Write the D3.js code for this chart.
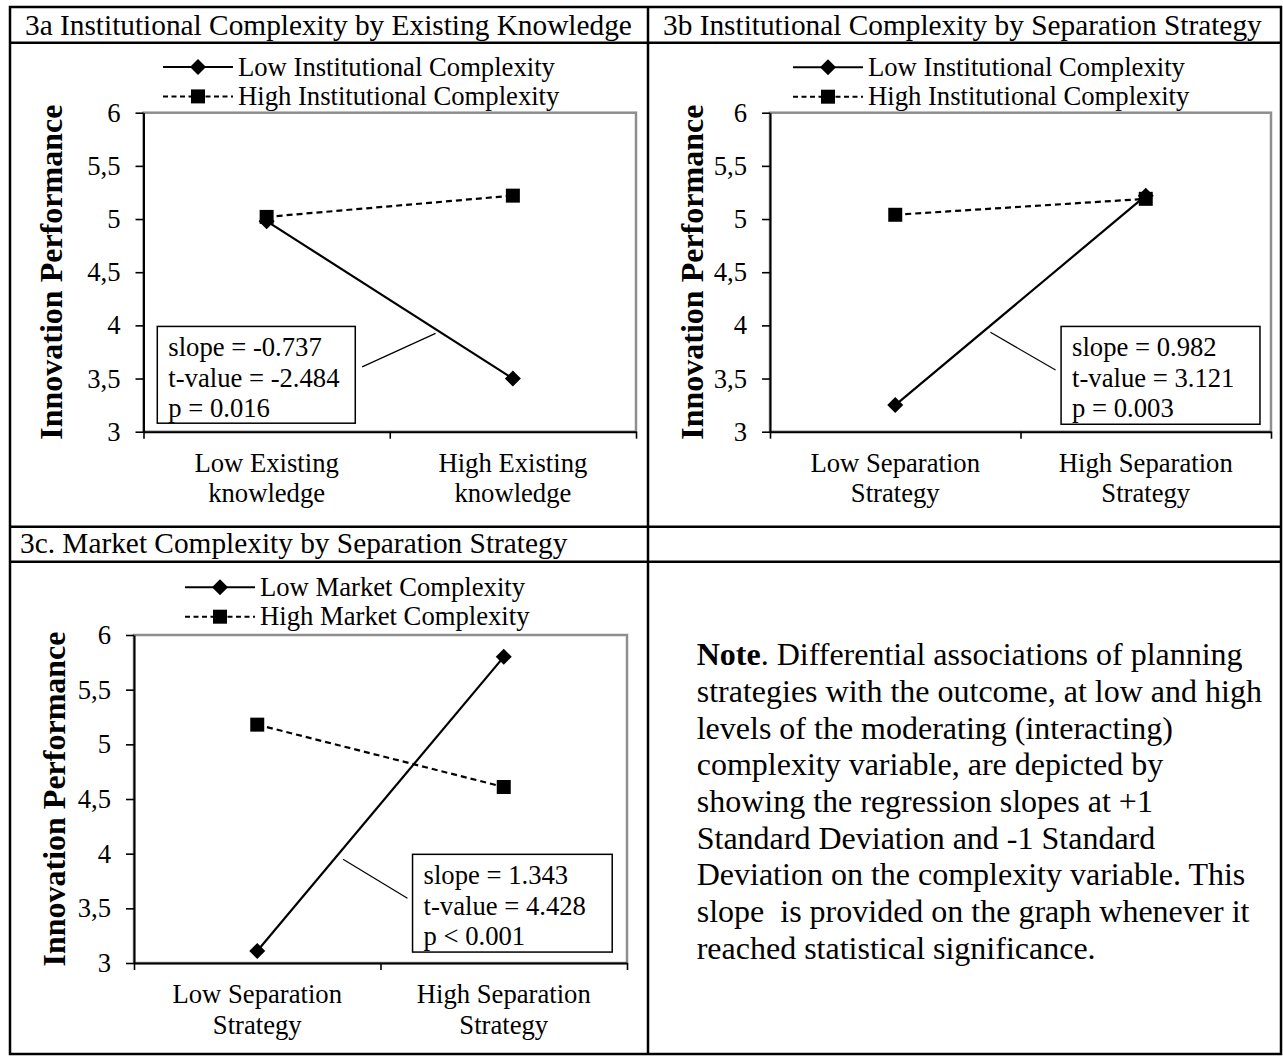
<!DOCTYPE html>
<html>
<head>
<meta charset="utf-8">
<script src="https://cdn.jsdelivr.net/npm/d3@7"></script>
<style>
  body { margin: 0; background: #fff; }
  svg text { font-family: "Liberation Serif", "Times New Roman", serif; fill: #000; }
</style>
</head>
<body>
<svg id="fig" width="1283" height="1057"></svg>
<script>
// ---- data ----
const titles = [
  "3a Institutional Complexity by Existing Knowledge",
  "3b Institutional Complexity by Separation Strategy",
  "3c. Market Complexity by Separation Strategy"
];
const categoriesKnowledge = [["Low Existing", "knowledge"], ["High Existing", "knowledge"]];
const categoriesSeparation = [["Low Separation", "Strategy"], ["High Separation", "Strategy"]];
const yTicks = [3, 3.5, 4, 4.5, 5, 5.5, 6];
const yTitle = "Innovation Performance";

const legendInstitutional = ["Low Institutional Complexity", "High Institutional Complexity"];
const legendMarket = ["Low Market Complexity", "High Market Complexity"];

const low3a = [4.98, 3.50];
const high3a = [5.02, 5.22];
const low3b = [3.25, 5.22];
const high3b = [5.04, 5.19];
const low3c = [3.11, 5.80];
const high3c = [5.18, 4.61];

const stats3a = ["slope = -0.737", "t-value = -2.484", "p = 0.016"];
const stats3b = ["slope = 0.982", "t-value = 3.121", "p = 0.003"];
const stats3c = ["slope = 1.343", "t-value = 4.428", "p < 0.001"];

const noteLead = "Note";
const noteLines = [
  ". Differential associations of planning",
  "strategies with the outcome, at low and high",
  "levels of the moderating (interacting)",
  "complexity variable, are depicted by",
  "showing the regression slopes at +1",
  "Standard Deviation and -1 Standard",
  "Deviation on the complexity variable. This",
  "slope  is provided on the graph whenever it",
  "reached statistical significance."
];

// ---- layout ----
const FS = 26.67;          // 20pt body text
const svg = d3.select("#fig");

const panels = [
  {
    cats: categoriesKnowledge, low: low3a, high: high3a, legend: legendInstitutional, stats: stats3a,
    plot: { x0: 143.5, x1: 636, y0: 112.7, y1: 431.7 },
    legendAt: { x: 163, y: 67, dy: 29.4 }, titleX: 62,
    box: { f0: 0.028, f1: 0.430, v0: 3.99, v1: 3.08 },
    leader: [[0.444, 3.61], [0.593, 3.925]]
  },
  {
    cats: categoriesSeparation, low: low3b, high: high3b, legend: legendInstitutional, stats: stats3b,
    plot: { x0: 770, x1: 1271, y0: 112.7, y1: 431.7 },
    legendAt: { x: 793, y: 67.3, dy: 29.4 }, titleX: 703,
    box: { f0: 0.581, f1: 0.978, v0: 3.99, v1: 3.07 },
    leader: [[0.570, 3.58], [0.440, 3.935]]
  },
  {
    cats: categoriesSeparation, low: low3c, high: high3c, legend: legendMarket, stats: stats3c,
    plot: { x0: 134, x1: 627, y0: 635, y1: 963 },
    legendAt: { x: 185, y: 587.3, dy: 29.4 }, titleX: 65,
    box: { f0: 0.565, f1: 0.970, v0: 3.994, v1: 3.10 },
    leader: [[0.5546, 3.592], [0.424, 3.948]]
  }
];

// ---- table grid ----
const grid = svg.append("g").attr("stroke", "#000").attr("stroke-width", 2.5).attr("fill", "none");
grid.append("rect").attr("x", 10).attr("y", 7).attr("width", 1271).attr("height", 1047);
[42.7, 526.7, 561.7].forEach(y => grid.append("line").attr("x1", 10).attr("x2", 1281).attr("y1", y).attr("y2", y));
grid.append("line").attr("x1", 648).attr("x2", 648).attr("y1", 7).attr("y2", 1054);

// cell headers
const headerFS = 29.33;
[[titles[0], 25, 35], [titles[1], 663, 35], [titles[2], 20, 553]].forEach(([t, x, y]) => {
  svg.append("text").attr("x", x).attr("y", y).style("font-size", headerFS + "px").text(t);
});

// ---- marker shapes ----
function diamondPath(r) { return `M0,${-r}L${r},0L0,${r}L${-r},0Z`; }
function squarePath(s) { const h = s / 2; return `M${-h},${-h}H${h}V${h}H${-h}Z`; }
const series = [
  { key: "low", dash: null, marker: diamondPath(8) },
  { key: "high", dash: "6,4", marker: squarePath(14) }
];

// ---- panels ----
panels.forEach(p => {
  const g = svg.append("g");
  const { x0, x1, y0, y1 } = p.plot;
  const y = d3.scaleLinear().domain([3, 6]).range([y1, y0]);
  const xb = d3.scaleBand().domain(d3.range(p.cats.length)).range([x0, x1]).padding(0);
  const xc = i => xb(i) + xb.bandwidth() / 2;
  const xf = d3.scaleLinear().domain([0, 1]).range([x0, x1]);
  const xEdge = d3.scaleLinear().domain([0, p.cats.length]).range([x0, x1]);

  // plot frame
  g.append("rect").attr("x", x0).attr("y", y0).attr("width", x1 - x0).attr("height", y1 - y0)
    .attr("fill", "none").attr("stroke", "#8e8e8e").attr("stroke-width", 2.5);

  // y axis
  const ya = g.append("g").attr("transform", `translate(${x0},0)`)
    .call(d3.axisLeft(y).tickValues(yTicks).tickSize(8).tickSizeOuter(0).tickPadding(15)
      .tickFormat(d => String(d).replace(".", ",")));
  ya.attr("font-size", null).attr("font-family", null);
  ya.select(".domain").attr("stroke-width", 2);
  ya.selectAll(".tick line").attr("stroke-width", 1.6);
  ya.selectAll(".tick text").style("font-size", FS + "px");

  // x axis (category boundaries)
  const xa = g.append("g").attr("transform", `translate(0,${y1})`)
    .call(d3.axisBottom(xEdge).tickValues(d3.range(p.cats.length + 1)).tickSize(7).tickSizeOuter(0).tickFormat(""));
  xa.select(".domain").attr("stroke-width", 2);
  xa.selectAll(".tick line").attr("stroke-width", 1.6);

  // category labels
  p.cats.forEach((lines, i) => {
    const t = g.append("text").attr("text-anchor", "middle").style("font-size", FS + "px");
    lines.forEach((s, k) => t.append("tspan").attr("x", xc(i)).attr("y", y1 + 40 + k * 30.7).text(s));
  });

  // y title
  g.append("text").attr("text-anchor", "middle")
    .attr("transform", `translate(${p.titleX},${(y0 + y1) / 2}) rotate(-90)`)
    .style("font-size", "32px").style("font-weight", "bold").text(yTitle);

  // lines + markers
  const line = d3.line().x((d, i) => xc(i)).y(d => y(d));
  series.forEach(s => {
    const vals = p[s.key];
    g.append("path").attr("d", line(vals)).attr("fill", "none").attr("stroke", "#000")
      .attr("stroke-width", 2.2).attr("stroke-dasharray", s.dash);
  });
  series.slice().reverse().forEach(s => {
    p[s.key].forEach((v, i) => {
      g.append("path").attr("d", s.marker).attr("transform", `translate(${xc(i)},${y(v)})`).attr("fill", "#000");
    });
  });

  // legend
  const L = p.legendAt;
  p.legend.forEach((label, k) => {
    const s = series[k];
    const ly = L.y + k * L.dy;
    g.append("line").attr("x1", L.x).attr("x2", L.x + 70).attr("y1", ly).attr("y2", ly)
      .attr("stroke", "#000").attr("stroke-width", 2).attr("stroke-dasharray", s.dash ? "5,3.5" : null);
    g.append("path").attr("d", s.marker).attr("transform", `translate(${L.x + 35},${ly})`).attr("fill", "#000");
    g.append("text").attr("x", L.x + 75).attr("y", ly + 8.5).style("font-size", FS + "px").text(label);
  });

  // leader line from the statistics box to the slope it describes
  const [a, b] = p.leader;
  g.append("line").attr("x1", xf(a[0])).attr("y1", y(a[1])).attr("x2", xf(b[0])).attr("y2", y(b[1]))
    .attr("stroke", "#000").attr("stroke-width", 1.2);

  // statistics box
  const bx = xf(p.box.f0), bw = xf(p.box.f1) - bx, by = y(p.box.v0), bh = y(p.box.v1) - by;
  g.append("rect").attr("x", bx).attr("y", by).attr("width", bw).attr("height", bh)
    .attr("fill", "#fff").attr("stroke", "#000").attr("stroke-width", 1.5);
  p.stats.forEach((s, k) => {
    g.append("text").attr("x", bx + 11).attr("y", by + 29.5 + k * 30.7).style("font-size", FS + "px").text(s);
  });
});

// ---- note ----
const note = svg.append("text").style("font-size", "32px").style("white-space", "pre");
noteLines.forEach((s, k) => {
  const t = note.append("tspan").attr("x", 696.7).attr("y", 665.4 + k * 36.67);
  if (k === 0) {
    t.append("tspan").style("font-weight", "bold").text(noteLead);
    note.append("tspan").text(s);
  } else {
    t.text(s);
  }
});
</script>
</body>
</html>
